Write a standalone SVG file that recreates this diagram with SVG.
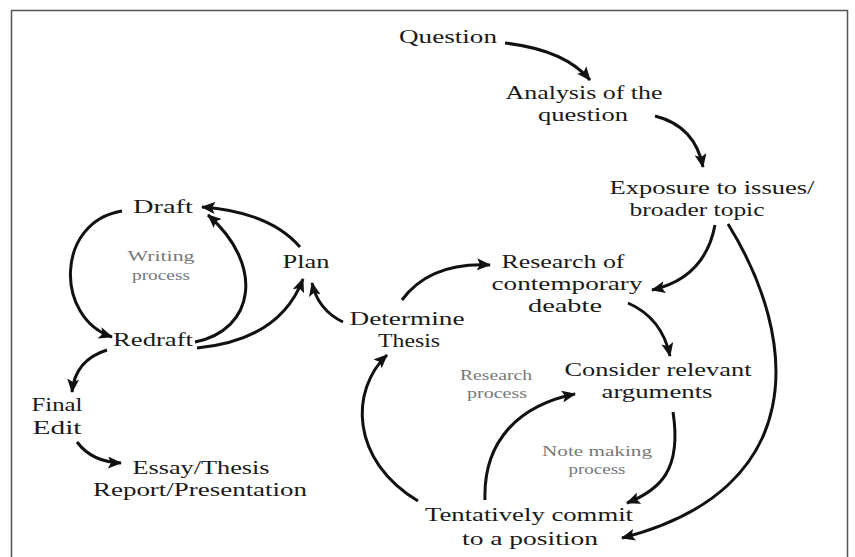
<svg xmlns="http://www.w3.org/2000/svg" width="855" height="557" viewBox="0 0 855 557">
<defs>
<marker id="ah" viewBox="0 0 14 12" refX="13" refY="6" markerWidth="14" markerHeight="12" markerUnits="userSpaceOnUse" orient="auto">
<path d="M0,0 L14,6 L0,12 L3,6 z" fill="#111"/>
</marker>
<style>
.t{font-family:"Liberation Serif","DejaVu Serif",serif;font-size:19px;fill:#1a1a1a;text-anchor:middle}
.g{font-family:"Liberation Serif","DejaVu Serif",serif;font-size:14px;fill:#777;text-anchor:middle}
.c{fill:none;stroke:#111;stroke-width:3;marker-end:url(#ah)}
</style>
</defs>
<rect width="855" height="557" fill="#fff"/>
<path d="M11.5,557 V10.5 H847.5 V557" fill="none" stroke="#555" stroke-width="1.5"/>
<g id="connectors">
<path class="c" d="M505,43 Q565,50 590,80"/>
<path class="c" d="M655,116 Q695,126 703,167"/>
<path class="c" d="M715,225 Q705,278 652,290"/>
<path class="c" d="M728,224 C800,340 810,490 622,538"/>
<path class="c" d="M402,300 Q430,262 490,265"/>
<path class="c" d="M628,303 Q662,318 670,356"/>
<path class="c" d="M673,412 C682,470 660,490 627,503"/>
<path class="c" d="M485,500 C483,440 520,405 575,394"/>
<path class="c" d="M418,501 C350,460 350,390 387,355"/>
<path class="c" d="M343,322 Q318,310 312,283"/>
<path class="c" d="M197,348 Q280,340 303,279"/>
<path class="c" d="M195,342 C255,330 265,265 208,215"/>
<path class="c" d="M300,247 Q270,212 202,207"/>
<path class="c" d="M122,211 C55,222 55,318 112,337"/>
<path class="c" d="M107,350 Q75,360 72,392"/>
<path class="c" d="M77,442 Q92,462 121,463"/>
</g>
<g id="question"><text class="t" x="448" y="43" textLength="98" lengthAdjust="spacingAndGlyphs">Question</text></g>
<g id="analysis"><text class="t" x="584" y="99" textLength="157" lengthAdjust="spacingAndGlyphs">Analysis of the</text><text class="t" x="583" y="121" textLength="90" lengthAdjust="spacingAndGlyphs">question</text></g>
<g id="exposure"><text class="t" x="712" y="194" textLength="205" lengthAdjust="spacingAndGlyphs">Exposure to issues/</text><text class="t" x="697" y="216" textLength="135" lengthAdjust="spacingAndGlyphs">broader topic</text></g>
<g id="research"><text class="t" x="563" y="268" textLength="123" lengthAdjust="spacingAndGlyphs">Research of</text><text class="t" x="567" y="290" textLength="151" lengthAdjust="spacingAndGlyphs">contemporary</text><text class="t" x="565" y="312" textLength="74" lengthAdjust="spacingAndGlyphs">deabte</text></g>
<g id="consider"><text class="t" x="658" y="376" textLength="187" lengthAdjust="spacingAndGlyphs">Consider relevant</text><text class="t" x="657" y="398" textLength="111" lengthAdjust="spacingAndGlyphs">arguments</text></g>
<g id="tentative"><text class="t" x="529" y="521" textLength="208" lengthAdjust="spacingAndGlyphs">Tentatively commit</text><text class="t" x="530" y="545" textLength="136" lengthAdjust="spacingAndGlyphs">to a position</text></g>
<g id="determine"><text class="t" x="407" y="325" textLength="115" lengthAdjust="spacingAndGlyphs">Determine</text><text class="t" x="409" y="347" textLength="62" lengthAdjust="spacingAndGlyphs">Thesis</text></g>
<g id="plan"><text class="t" x="306" y="268" textLength="47" lengthAdjust="spacingAndGlyphs">Plan</text></g>
<g id="draft"><text class="t" x="163" y="213" textLength="60" lengthAdjust="spacingAndGlyphs">Draft</text></g>
<g id="redraft"><text class="t" x="153" y="346" textLength="80" lengthAdjust="spacingAndGlyphs">Redraft</text></g>
<g id="final"><text class="t" x="57" y="411" textLength="51" lengthAdjust="spacingAndGlyphs">Final</text><text class="t" x="57" y="434" textLength="49" lengthAdjust="spacingAndGlyphs">Edit</text></g>
<g id="essay"><text class="t" x="201" y="474" textLength="137" lengthAdjust="spacingAndGlyphs">Essay/Thesis</text><text class="t" x="200" y="496" textLength="214" lengthAdjust="spacingAndGlyphs">Report/Presentation</text></g>
<g id="writing-label"><text class="g" x="161" y="261" textLength="67" lengthAdjust="spacingAndGlyphs">Writing</text><text class="g" x="161" y="280" textLength="58" lengthAdjust="spacingAndGlyphs">process</text></g>
<g id="research-label"><text class="g" x="496" y="380" textLength="72" lengthAdjust="spacingAndGlyphs">Research</text><text class="g" x="497" y="398" textLength="60" lengthAdjust="spacingAndGlyphs">process</text></g>
<g id="note-label"><text class="g" x="597" y="456" textLength="110" lengthAdjust="spacingAndGlyphs">Note making</text><text class="g" x="597" y="474" textLength="57" lengthAdjust="spacingAndGlyphs">process</text></g>
</svg>
